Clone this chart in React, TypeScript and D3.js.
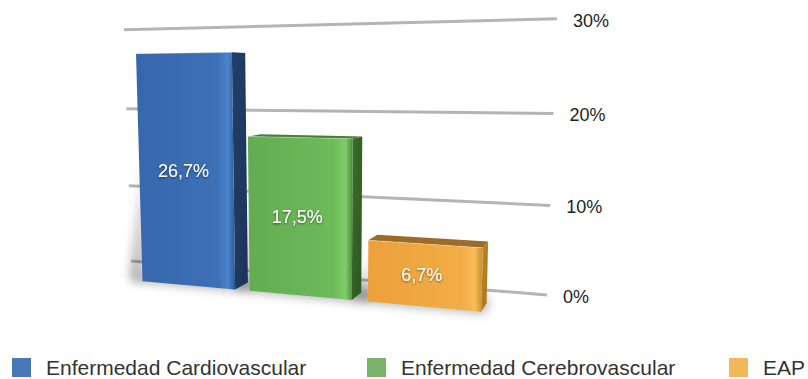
import React from "react";
import * as d3 from "d3";

// ---- data ----
const categories = ["Enfermedad Cardiovascular", "Enfermedad Cerebrovascular", "EAP"];
const values = [26.7, 17.5, 6.7];
const yTicks = [0, 10, 20, 30];

// ---- palette ----
const frontStops = [
  ["#3767ab", "#3c70b7", "#4a83cd", "#2c568f"],
  ["#64ab52", "#6dbb5a", "#7fcd6a", "#4c8a3e"],
  ["#eca13b", "#f2ac46", "#f8bb57", "#c98a2a"],
];
const sideStops = [
  ["#22406c", "#1b3458"],
  ["#3a7029", "#2c561f"],
  ["#bf8727", "#a7731d"],
];
const topColors = ["#2f5690", "#447f34", "#9b6b29"];
const legendColors = ["#4679b6", "#7ab46a", "#f2b758"];

// ---- layout ----
const W = 808;
const H = 379;
const LEGEND_X = [12, 367, 729];
const LEGEND_Y = 357;

// perspective camera: vanishing points of the category (X), value (Y) and depth (Z) directions,
// image of the world origin, and the scale of each axis in homogeneous units
const VP_X: [number, number] = [-2028, 85];
const VP_Y: [number, number] = [321, 6535];
const VP_Z: [number, number] = [630, 75];
const ORIGIN: [number, number] = [131, 261];
const KX = -0.16155;
const KY = -0.035535;
const KZ = -0.07637;

const Z_GRID = 0;
const Z_BACK = 0.622;
const Z_FRONT = 1;

function project(x: number, y: number, z: number): [number, number] {
  const a = KX * x;
  const b = KY * y;
  const c = KZ * z;
  const hx = a * VP_X[0] + b * VP_Y[0] + c * VP_Z[0] + ORIGIN[0];
  const hy = a * VP_X[1] + b * VP_Y[1] + c * VP_Z[1] + ORIGIN[1];
  const hw = a + b + c + 1;
  return [hx / hw, hy / hw];
}

const xScale = d3
  .scaleBand<string>()
  .domain(categories)
  .range([0.139, 0.892])
  .paddingInner(0.13);
const yScale = d3.scaleLinear().domain([0, 30]).range([0, 1]);

const esLocale = d3.formatLocale({
  decimal: ",",
  thousands: ".",
  grouping: [3],
  currency: ["", " €"],
});
const fmtValue = (v: number) => esLocale.format(".1f")(v) + "%";
const fmtTick = (v: number) => esLocale.format("d")(v) + "%";

const poly = (pts: [number, number][]) => (d3.line()(pts) || "") + "Z";

export default function App() {
  const font = "'Liberation Sans', Arial, Helvetica, sans-serif";

  const bars = categories.map((cat, i) => {
    const x0 = xScale(cat)!;
    const x1 = x0 + xScale.bandwidth();
    const yv = yScale(values[i]);
    const P = (x: number, y: number, z: number) => project(x, y, z);
    const front = [P(x0, 0, Z_FRONT), P(x1, 0, Z_FRONT), P(x1, yv, Z_FRONT), P(x0, yv, Z_FRONT)];
    const side = [P(x1, 0, Z_FRONT), P(x1, 0, Z_BACK), P(x1, yv, Z_BACK), P(x1, yv, Z_FRONT)];
    const top = [P(x0, yv, Z_FRONT), P(x1, yv, Z_FRONT), P(x1, yv, Z_BACK), P(x0, yv, Z_BACK)];
    const topVisible = P(x0, yv, Z_BACK)[1] < P(x0, yv, Z_FRONT)[1];
    const sideVisible = P(x1, 0, Z_BACK)[0] > P(x1, 0, Z_FRONT)[0];
    const floorShadow = [
      P(x0 - 0.03, 0, Z_BACK - 0.25),
      P(x1, 0, Z_BACK - 0.25),
      P(x1 + 0.01, 0, Z_FRONT + 0.08),
      P(x0 - 0.02, 0, Z_FRONT + 0.08),
    ];
    const leftHaze = [
      P(x0 - 0.035, 0, Z_FRONT),
      P(x0, 0, Z_FRONT),
      P(x0, yv * 0.55, Z_BACK),
      P(x0 - 0.035, yv * 0.55, Z_BACK),
    ];
    const labelPos = P((x0 + x1) / 2, yv / 2, Z_FRONT);
    return { cat, i, front, side, top, topVisible, sideVisible, floorShadow, leftHaze, labelPos };
  });

  return (
    <svg
      width={W}
      height={H}
      viewBox={`0 0 ${W} ${H}`}
      style={{ position: "absolute", left: 0, top: 0, background: "#ffffff" }}
    >
      <defs>
        <filter id="soft" x="-50%" y="-50%" width="200%" height="200%">
          <feGaussianBlur stdDeviation="5" />
        </filter>
        <filter id="labelShadow" x="-20%" y="-40%" width="140%" height="180%">
          <feDropShadow dx="0" dy="1" stdDeviation="1.2" floodColor="#000" floodOpacity="0.55" />
        </filter>
        <linearGradient id="haze" x1="0" y1="0" x2="0" y2="1">
          <stop offset="0%" stopColor="#000" stopOpacity="0" />
          <stop offset="100%" stopColor="#000" stopOpacity="0.3" />
        </linearGradient>
        {frontStops.map((s, i) => (
          <linearGradient key={`f${i}`} id={`front${i}`} x1="0" y1="0" x2="1" y2="0">
            <stop offset="0%" stopColor={s[0]} />
            <stop offset="82%" stopColor={s[1]} />
            <stop offset="93%" stopColor={s[2]} />
            <stop offset="100%" stopColor={s[3]} />
          </linearGradient>
        ))}
        {sideStops.map((s, i) => (
          <linearGradient key={`s${i}`} id={`side${i}`} x1="0" y1="0" x2="1" y2="1">
            <stop offset="0%" stopColor={s[0]} />
            <stop offset="100%" stopColor={s[1]} />
          </linearGradient>
        ))}
      </defs>

      {/* gridlines on the back wall */}
      <g>
        {yTicks.map((t) => {
          const a = project(0, yScale(t), Z_GRID);
          const b = project(1, yScale(t), Z_GRID);
          return (
            <line
              key={t}
              x1={a[0]}
              y1={a[1]}
              x2={b[0]}
              y2={b[1]}
              stroke="#b4b4b4"
              strokeWidth={3}
            />
          );
        })}
      </g>

      {/* value axis labels */}
      <g fontFamily={font} fontSize={18} fill="#1e1e1e">
        {yTicks.map((t) => {
          const b = project(1, yScale(t), Z_GRID);
          return (
            <text key={t} x={b[0] + 16} y={b[1] + 2} dominantBaseline="central">
              {fmtTick(t)}
            </text>
          );
        })}
      </g>

      {/* soft shadows */}
      <g filter="url(#soft)">
        {bars.map((b) => (
          <g key={b.cat}>
            <path d={poly(b.floorShadow)} fill="#000" opacity={0.28} />
            <path d={poly(b.leftHaze)} fill="url(#haze)" />
          </g>
        ))}
      </g>

      {/* bars */}
      {bars.map((b) => (
        <g key={b.cat}>
          {b.sideVisible && <path d={poly(b.side)} fill={`url(#side${b.i})`} />}
          {b.topVisible && <path d={poly(b.top)} fill={topColors[b.i]} />}
          <path d={poly(b.front)} fill={`url(#front${b.i})`} />
          <line
            x1={b.front[3][0]}
            y1={b.front[3][1]}
            x2={b.front[2][0]}
            y2={b.front[2][1]}
            stroke="#ffffff"
            strokeOpacity={0.25}
            strokeWidth={1.2}
          />
        </g>
      ))}

      {/* value labels */}
      <g fontFamily={font} fontSize={18} fill="#ffffff" textAnchor="middle" filter="url(#labelShadow)">
        {bars.map((b) => (
          <text key={b.cat} x={b.labelPos[0] - 2} y={b.labelPos[1]} dominantBaseline="central">
            {fmtValue(values[b.i])}
          </text>
        ))}
      </g>

      {/* legend */}
      <g fontFamily={font} fontSize={21} fill="#333333">
        {categories.map((c, i) => (
          <g key={c} transform={`translate(${LEGEND_X[i]},${LEGEND_Y})`}>
            <rect x={0} y={1} width={19} height={19} fill={legendColors[i]} />
            <text x={34} y={17.5}>
              {c}
            </text>
          </g>
        ))}
      </g>
    </svg>
  );
}
